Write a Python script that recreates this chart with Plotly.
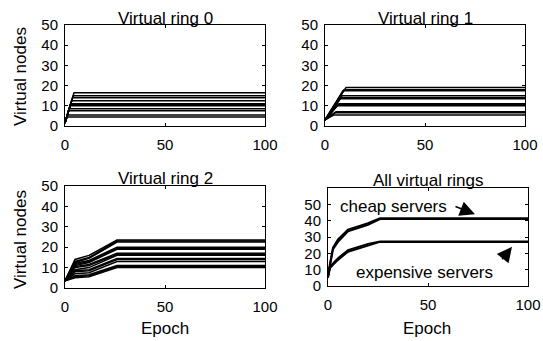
import plotly.graph_objects as go

# ---------------- data ----------------
# Virtual ring 0: every line starts at r0_start (epoch 0), reaches its final value at r0_tend
r0_start = 1.5
r0_final = [4.5, 5.5, 7.5, 8.5, 10, 10.5, 11, 12.5, 14, 15, 16.5]
r0_tend = [1.0, 1.2, 1.8, 2.0, 2.5, 2.7, 2.8, 3.3, 3.8, 4.1, 4.5]

# Virtual ring 1
r1_start = 3
r1_final = [5.5, 6.5, 7, 10, 10.5, 11, 13.5, 14, 15, 17.5, 18, 19]
r1_tend = [4.5, 5, 5.5, 6, 6.5, 7, 7.5, 8, 8.5, 9, 9.5, 10.5]

# Virtual ring 2: values at epochs 0, 5, 12, 26 (then flat to 100)
r2_epochs = [0, 5, 12, 26, 100]
r2_start = 3.5
r2_at5 = [5, 5.5, 6, 7, 8, 8.5, 9, 10, 10.5, 11, 11.5, 12, 12.5, 13, 14]
r2_at12 = [5.5, 6, 6.5, 7.5, 8.5, 9, 10, 11, 11.5, 12.5, 13, 13.5, 14.5, 15, 16]
r2_final = [10, 10.5, 11, 13, 14, 14.5, 16, 16.5, 17, 19, 19.5, 20, 22.5, 23, 23.5]

# All virtual rings
all_epochs = [0, 1, 2.5, 5, 10, 15, 20, 26, 100]
cheap_a = [6, 12, 22.5, 27, 33.5, 35.5, 37.5, 41, 41]
cheap_b = [7, 13.5, 23.5, 28.5, 34.5, 36.5, 38.5, 41.5, 41.5]
expensive_a = [5, 11, 13, 16, 21, 23, 25, 27, 27]
expensive_b = [6, 12, 13.8, 17, 22, 23.8, 25.8, 27.3, 27.3]

x_ticks = [0, 50, 100]
y_ticks = [0, 10, 20, 30, 40, 50]
titles = ["Virtual ring 0", "Virtual ring 1", "Virtual ring 2", "All virtual rings"]

# ---------------- figure ----------------
W, H = 543, 341
fig = go.Figure()

LINE = dict(color="black", width=1.5)


def add_line(xs, ys, ax):
    fig.add_trace(go.Scatter(x=xs, y=ys, mode="lines", line=LINE,
                             xaxis="x" + ax, yaxis="y" + ax,
                             showlegend=False, hoverinfo="skip"))


for f, t in zip(r0_final, r0_tend):
    add_line([0, t, 100], [r0_start, f, f], "")
for f, t in zip(r1_final, r1_tend):
    add_line([0, t, 100], [r1_start, f, f], "2")
for a5, a12, f in zip(r2_at5, r2_at12, r2_final):
    add_line(r2_epochs, [r2_start, a5, a12, f, f], "3")
for series in (cheap_a, cheap_b, expensive_a, expensive_b):
    fig.add_trace(go.Scatter(x=all_epochs, y=series, mode="lines",
                             line=dict(color="black", width=2),
                             xaxis="x4", yaxis="y4",
                             showlegend=False, hoverinfo="skip"))

# panel boxes in pixels: (left, right, top, bottom)
boxes = [(65, 265, 25, 126), (325, 525, 25, 126),
         (65, 265, 186, 288), (328, 528, 188, 286)]
yranges = [[0, 50], [0, 50], [0, 50], [0, 60]]
title_y = [18.5, 18.5, 178, 180]

FAM = "Liberation Sans, Arial, sans-serif"
FONT = dict(family=FAM, size=17, color="black")
TICKFONT = dict(family=FAM, size=15, color="black")

layout = {}
annotations = []
for i, ((l, r, t, b), yr) in enumerate(zip(boxes, yranges)):
    suf = "" if i == 0 else str(i + 1)
    axis_common = dict(showline=True, linecolor="black", linewidth=1,
                       mirror="ticks", ticks="inside", ticklen=3,
                       tickcolor="black", tickwidth=1, showgrid=False,
                       zeroline=False, tickfont=TICKFONT, fixedrange=True,
                       automargin=False)
    layout["xaxis" + suf] = dict(domain=[l / W, r / W], range=[0, 100],
                                 tickvals=x_ticks, anchor="y" + suf,
                                 ticklabelstandoff=5, **axis_common)
    layout["yaxis" + suf] = dict(domain=[1 - b / H, 1 - t / H], range=yr,
                                 tickvals=y_ticks, anchor="x" + suf,
                                 ticklabelstandoff=3, **axis_common)
    annotations.append(dict(text=titles[i], x=(l + r) / 2 / W, y=1 - title_y[i] / H,
                            xref="paper", yref="paper", xanchor="center",
                            yanchor="middle", showarrow=False, font=FONT))

# axis titles
annotations.append(dict(text="Virtual nodes", x=20 / W, y=1 - 77 / H, xref="paper",
                        yref="paper", textangle=-90, showarrow=False, font=FONT,
                        xanchor="center", yanchor="middle"))
annotations.append(dict(text="Virtual nodes", x=20 / W, y=1 - 240 / H, xref="paper",
                        yref="paper", textangle=-90, showarrow=False, font=FONT,
                        xanchor="center", yanchor="middle"))
annotations.append(dict(text="Epoch", x=165 / W, y=1 - 328 / H, xref="paper",
                        yref="paper", showarrow=False, font=FONT,
                        xanchor="center", yanchor="middle"))
annotations.append(dict(text="Epoch", x=427 / W, y=1 - 328 / H, xref="paper",
                        yref="paper", showarrow=False, font=FONT,
                        xanchor="center", yanchor="middle"))

# text labels and arrows in panel 4
annotations.append(dict(text="cheap servers", x=5, y=48.5, xref="x4", yref="y4",
                        xanchor="left", yanchor="middle", showarrow=False, font=FONT))
annotations.append(dict(text="expensive servers", x=48.3, y=8, xref="x4", yref="y4",
                        xanchor="center", yanchor="middle", showarrow=False, font=FONT))
annotations.append(dict(text="", x=73.5, y=44, ax=63, ay=49, xref="x4", yref="y4",
                        axref="x4", ayref="y4", showarrow=True, arrowhead=2,
                        arrowsize=2.0, arrowwidth=1.5, arrowcolor="black"))
annotations.append(dict(text="", x=92, y=24, ax=86.5, ay=15.5, xref="x4", yref="y4",
                        axref="x4", ayref="y4", showarrow=True, arrowhead=2,
                        arrowsize=2.0, arrowwidth=1.5, arrowcolor="black"))

fig.update_layout(width=W, height=H, margin=dict(l=0, r=0, t=0, b=0),
                  paper_bgcolor="white", plot_bgcolor="white",
                  annotations=annotations, **layout)

fig.write_html("out.html", config={"displayModeBar": False},
               post_script="document.body.style.margin='0';"
                           "document.body.style.overflow='hidden';")
